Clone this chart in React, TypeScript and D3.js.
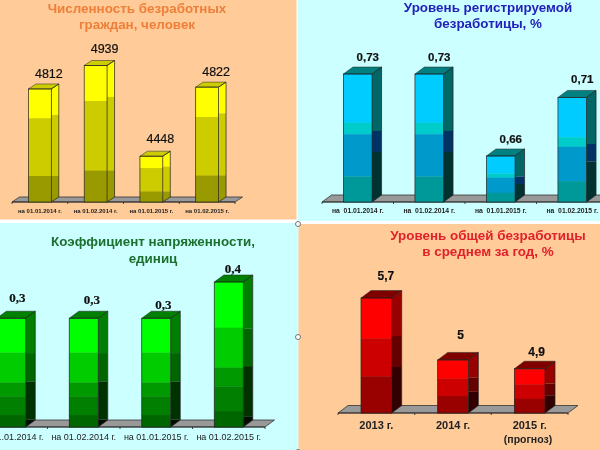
import React from "react";
import * as d3 from "d3";

// top left panel
const jobless = [4812, 4939, 4448, 4822];
const joblessLabels = ["на 01.01.2014 г.", "на 01.02.2014 г.", "на 01.01.2015 г.", "на 01.02.2015 г."];
// top right panel
const registered = [0.73, 0.73, 0.66, 0.71];
const registeredLabels = ["на  01.01.2014 г.", "на  01.02.2014 г.", "на  01.01.2015 г.", "на  01.02.2015 г."];
// bottom left panel
const tension = [0.3, 0.3, 0.3, 0.4];
const tensionLabels = ["на 01.01.2014 г.", "на 01.02.2014 г.", "на 01.01.2015 г.", "на 01.02.2015 г."];
// bottom right panel
const overall = [5.7, 5, 4.9];
const overallLabels = ["2013 г.", "2014 г.", "2015 г."];

const fmt = (v: number) => String(v).replace(".", ",");

type Band = [number, string];

type Panel = {
  values: number[];
  labels: string[];
  title: string[];
  titleColor: string;
  titleX: number;
  titleY: number;
  titleGap: number;
  domain: [number, number];
  xRange: [number, number];
  baseY: number;
  topY: number;
  inner: number;
  dx: number;
  dy: number;
  front: Band[];
  side: Band[];
  top: string;
  labelY: number;
  labelSize: number;
  labelWeight: number;
  valueFont: string;
  valueSize: number;
  valueWeight: number;
  nudgeX: number[];
  nudgeY: number[];
};

const panels: Panel[] = [
  {
    values: jobless,
    labels: joblessLabels,
    title: ["Численность безработных", "граждан, человек"],
    titleColor: "#EE7F3A",
    titleX: 137,
    titleY: 12.5,
    titleGap: 16.5,
    domain: [4200, 4939],
    xRange: [12, 235],
    baseY: 202,
    topY: 65.5,
    inner: 0.59,
    dx: 7.5,
    dy: 5,
    front: [[0.26, "#FFFF00"], [0.77, "#CCCC00"], [1, "#999900"]],
    side: [[0.23, "#FFFF00"], [0.77, "#CCCC00"], [1, "#999900"]],
    top: "#CCCC00",
    labelY: 213,
    labelSize: 6,
    labelWeight: 700,
    valueFont: "Liberation Sans",
    valueSize: 12.5,
    valueWeight: 400,
    nudgeX: [9, 9, 9, 9],
    nudgeY: [-11, -13, -13, -11],
  },
  {
    values: registered,
    labels: registeredLabels,
    title: ["Уровень регистрируемой", "безработицы, %"],
    titleColor: "#2222BB",
    titleX: 488,
    titleY: 12,
    titleGap: 15.5,
    domain: [0.6207, 0.73],
    xRange: [322, 608],
    baseY: 202,
    topY: 74,
    inner: 0.6,
    dx: 9.5,
    dy: 7,
    front: [[0.38, "#00CCFF"], [0.47, "#00CCCC"], [0.8, "#0099CC"], [1, "#009999"]],
    side: [[0.445, "#006666"], [0.61, "#003366"], [1, "#003333"]],
    top: "#008080",
    labelY: 213,
    labelSize: 6.8,
    labelWeight: 700,
    valueFont: "Liberation Sans",
    valueSize: 11.5,
    valueWeight: 700,
    nudgeX: [10, 10, 10, 10],
    nudgeY: [-13, -13, -13, -14],
  },
  {
    values: tension,
    labels: tensionLabels,
    title: ["Коэффициент напряженности,", "единиц"],
    titleColor: "#1F6F2F",
    titleX: 153,
    titleY: 246,
    titleGap: 16.5,
    domain: [0, 0.4],
    xRange: [-25, 265],
    baseY: 427,
    topY: 282,
    inner: 0.6,
    dx: 9.5,
    dy: 7,
    front: [[0.315, "#00FF00"], [0.59, "#00CC00"], [0.72, "#009900"], [0.89, "#007F00"], [1, "#006600"]],
    side: [[0.32, "#008000"], [0.58, "#006600"], [0.93, "#003300"], [1, "#001100"]],
    top: "#008000",
    labelY: 440,
    labelSize: 9,
    labelWeight: 400,
    valueFont: "Liberation Serif",
    valueSize: 13,
    valueWeight: 700,
    nudgeX: [6, 8, 7, 4],
    nudgeY: [-16, -14, -9, -9],
  },
  {
    values: overall,
    labels: overallLabels,
    title: ["Уровень общей безработицы", "в среднем за год, %"],
    titleColor: "#E0202A",
    titleX: 488,
    titleY: 240,
    titleGap: 16,
    domain: [4.4, 5.7],
    xRange: [338, 568],
    baseY: 413,
    topY: 298,
    inner: 0.6,
    dx: 10,
    dy: 7.5,
    front: [[0.35, "#FF0000"], [0.68, "#CC0000"], [1, "#990000"]],
    side: [[0.33, "#990000"], [0.6, "#660000"], [1, "#330000"]],
    top: "#800000",
    labelY: 429,
    labelSize: 11,
    labelWeight: 700,
    valueFont: "Liberation Sans",
    valueSize: 12,
    valueWeight: 700,
    nudgeX: [9.5, 7.5, 7],
    nudgeY: [-18, -21, -13],
  },
];

const handles: [number, number][] = [[298, 224], [298, 337], [298, 452]];
const titleFont = "'Liberation Sans', Arial, sans-serif";
const titleSize = 13.4;

function Chart({ p }: { p: Panel }) {
  const x = d3.scaleBand<string>().domain(p.labels).range(p.xRange)
    .paddingInner(p.inner).paddingOuter(p.inner / 2);
  const y = d3.scaleLinear().domain(p.domain).range([p.baseY, p.topY]);
  const w = x.bandwidth();
  const step = x.step();
  const ticks = d3.range(p.labels.length + 1).map((i) => p.xRange[0] + i * step);
  const [x0, x1] = p.xRange;
  const floor = d3.line()([
    [x0, p.baseY],
    [x0 + p.dx, p.baseY - p.dy],
    [x1 + p.dx, p.baseY - p.dy],
    [x1, p.baseY],
  ]) + "Z";

  return (
    <g>
      {p.title.map((t, i) => (
        <text key={t} x={p.titleX} y={p.titleY + i * p.titleGap} textAnchor="middle"
          fontFamily={titleFont} fontWeight={700} fontSize={titleSize} fill={p.titleColor}>
          {t}
        </text>
      ))}
      <path d={floor} fill="#999" stroke="#222" strokeWidth={0.7} />
      <line x1={x0} x2={x1} y1={p.baseY} y2={p.baseY} stroke="#222" strokeWidth={0.8} />
      {ticks.map((t) => (
        <line key={t} x1={t} x2={t} y1={p.baseY} y2={p.baseY + 2} stroke="#222" strokeWidth={0.8} />
      ))}
      {p.values.map((v, i) => {
        const left = x(p.labels[i]) as number;
        const top = y(v);
        const h = p.baseY - top;
        const roof = d3.line()([
          [left, top],
          [left + p.dx, top - p.dy],
          [left + w + p.dx, top - p.dy],
          [left + w, top],
        ]) + "Z";
        return (
          <g key={p.labels[i]}>
            {p.front.map(([end, color], j) => {
              const start = j ? p.front[j - 1][0] : 0;
              return <rect key={color} x={left} y={top + start * h} width={w}
                height={(end - start) * h + 0.3} fill={color} />;
            })}
            {p.side.map(([end, color], j) => {
              const start = j ? p.side[j - 1][0] : 0;
              const a = top + start * h;
              const b = top + end * h;
              const back = start === 0 ? p.dy : 0;
              const bottomBack = end === 1 ? p.dy : 0;
              const d = d3.line()([
                [left + w, a],
                [left + w + p.dx, a - back],
                [left + w + p.dx, b - bottomBack],
                [left + w, b],
              ]) + "Z";
              return <path key={color} d={d} fill={color} />;
            })}
            <path d={roof} fill={p.top} stroke="#222" strokeWidth={0.5} />
            <rect x={left} y={top} width={w} height={h} fill="none" stroke="#222" strokeWidth={0.7} />
            <path d={`M${left + w},${top}L${left + w + p.dx},${top - p.dy}V${p.baseY - p.dy}L${left + w},${p.baseY}`}
              fill="none" stroke="#222" strokeWidth={0.7} />
            <text x={left + w / 2 + p.nudgeX[i]} y={top + p.nudgeY[i]} textAnchor="middle"
              fontFamily={p.valueFont} fontSize={p.valueSize} fontWeight={p.valueWeight}
              stroke="#111" strokeWidth={0.2} fill="#111">
              {fmt(v)}
            </text>
            <text x={left + w / 2} y={p.labelY} textAnchor="middle" fontFamily={titleFont}
              fontSize={p.labelSize} fontWeight={p.labelWeight} fill="#222" xmlSpace="preserve">
              {p.labels[i]}
            </text>
          </g>
        );
      })}
    </g>
  );
}

export default function App() {
  return (
    <svg width={600} height={450} style={{ position: "fixed", left: 0, top: 0 }}>
      <defs>
        <filter id="soft" x="-5%" y="-5%" width="110%" height="110%">
          <feGaussianBlur stdDeviation={0.35} />
        </filter>
      </defs>
      <rect width={600} height={450} fill="#fff" />
      <rect x={0} y={0} width={296.5} height={219.5} fill="#FFCC99" />
      <rect x={297.5} y={0} width={302.5} height={221} fill="#CCFFFF" />
      <rect x={0} y={223} width={298.5} height={227} fill="#CCFFFF" />
      <rect x={298.5} y={224} width={301.5} height={226} fill="#FFCC99" />
      <g filter="url(#soft)">
        {panels.map((p) => <Chart key={p.title[0]} p={p} />)}
        <text x={528} y={443} textAnchor="middle" fontFamily={titleFont} fontSize={10.5}
          fontWeight={700} fill="#222">(прогноз)</text>
      </g>
      {handles.map(([cx, cy]) => (
        <circle key={cy} cx={cx} cy={cy} r={2.5} fill="#fff" stroke="#555" strokeWidth={0.8} />
      ))}
    </svg>
  );
}
